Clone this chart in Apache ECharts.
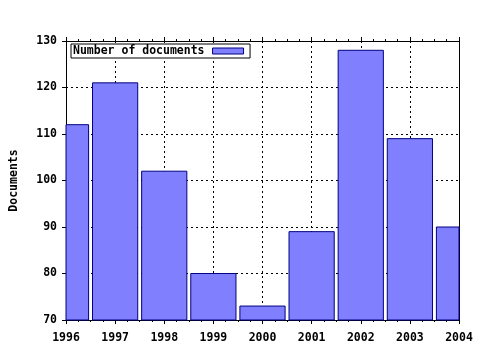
<!DOCTYPE html>
<html><head><meta charset="utf-8">
<script src="https://cdn.jsdelivr.net/npm/echarts@6/dist/echarts.min.js"></script>
<style>html,body{margin:0;padding:0;background:#fff}#c{width:480px;height:350px}</style>
</head><body><div id="c"></div>
<script>
const years = [1996, 1997, 1998, 1999, 2000, 2001, 2002, 2003, 2004];
const documents = [112, 121, 102, 80, 73, 89, 128, 109, 90];
const seriesName = 'Number of documents';
const yAxisName = 'Documents';

const font = 'DejaVu Sans Mono';
const txt = {color: '#000', fontFamily: font, fontWeight: 'bold', fontSize: 11.5};
const barFill = '#8080ff', barBorder = '#000080';
const chart = echarts.init(document.getElementById('c'), null, {renderer: 'canvas'});
chart.setOption({
  animation: false,
  backgroundColor: '#fff',
  grid: {left: 64, right: 21, top: 41, bottom: 30, containLabel: false},
  legend: {
    left: 71, top: 44, orient: 'horizontal', align: 'right',
    padding: [1, 6, 1, 2], itemWidth: 31, itemHeight: 6, itemGap: 0,
    borderColor: '#000', borderWidth: 1, backgroundColor: '#fff', borderRadius: 0,
    textStyle: Object.assign({}, txt, {padding: [1, 3, 0, 0]}),
    data: [{name: seriesName, icon: 'rect', itemStyle: {color: barFill, borderColor: barBorder, borderWidth: 1}}]
  },
  xAxis: [{
    type: 'value', min: 1996, max: 2004, interval: 1,
    axisLine: {show: true, lineStyle: {color: '#000', width: 1}},
    axisTick: {show: true, length: 4, lineStyle: {color: '#000'}},
    minorTick: {show: true, splitNumber: 4, length: 2, lineStyle: {color: '#000'}},
    axisLabel: Object.assign({}, txt, {margin: 12, formatter: v => String(v)}),
    splitLine: {show: true, lineStyle: {color: '#000', type: [2, 3], width: 1}}
  }, {
    type: 'value', min: 1996, max: 2004, interval: 1, position: 'top',
    axisLine: {show: true, lineStyle: {color: '#000', width: 1}},
    axisTick: {show: true, length: 4, lineStyle: {color: '#000'}},
    minorTick: {show: true, splitNumber: 4, length: 2, lineStyle: {color: '#000'}},
    axisLabel: {show: false}, splitLine: {show: false}
  }],
  yAxis: [{
    type: 'value', min: 70, max: 130, interval: 10,
    name: yAxisName, nameLocation: 'middle', nameGap: 46, nameRotate: 90,
    nameTextStyle: txt,
    axisLine: {show: true, lineStyle: {color: '#000', width: 1}},
    axisTick: {show: true, length: 4, lineStyle: {color: '#000'}},
    axisLabel: Object.assign({}, txt, {margin: 9}),
    splitLine: {show: true, lineStyle: {color: '#000', type: [2, 3], width: 1}}
  }, {
    type: 'value', min: 70, max: 130, interval: 10, position: 'right',
    axisLine: {show: true, lineStyle: {color: '#000', width: 1}},
    axisTick: {show: false}, axisLabel: {show: false}, splitLine: {show: false}
  }],
  series: [{
    name: seriesName, type: 'custom', xAxisIndex: 0, yAxisIndex: 0,
    itemStyle: {color: barFill, borderColor: barBorder, borderWidth: 1},
    encode: {x: 0, y: 1},
    renderItem: function (params, api) {
      const x = api.value(0), y = api.value(1);
      const top = api.coord([x, y]);
      const base = api.coord([x, 70]);
      const w = api.size([1, 0])[0] * 0.92;
      const rect = echarts.graphic.clipRectByRect({
        x: top[0] - w / 2, y: top[1], width: w, height: base[1] - top[1]
      }, {
        x: params.coordSys.x, y: params.coordSys.y,
        width: params.coordSys.width, height: params.coordSys.height
      });
      return rect && {
        type: 'rect', shape: rect,
        style: {fill: barFill, stroke: barBorder, lineWidth: 1}
      };
    },
    data: years.map((y, i) => [y, documents[i]])
  }]
});
</script></body></html>
